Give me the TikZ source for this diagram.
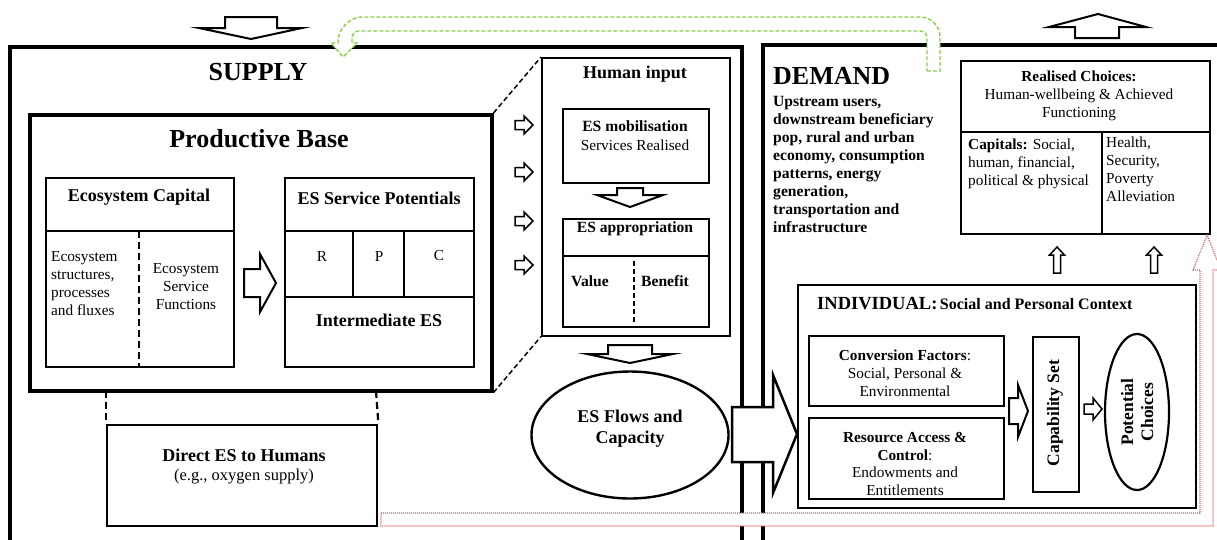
\documentclass[tikz,border=0pt]{standalone}
\usepackage{fontspec}
\setmainfont{Liberation Serif}
\usetikzlibrary{shapes.geometric}
\definecolor{flowgreen}{RGB}{140,205,75}
\definecolor{flowred}{RGB}{215,90,90}
\begin{document}
\begin{tikzpicture}[x=1pt,y=-1pt,
  outer/.style={line width=4.5pt,line join=miter},
  pbox/.style={draw,line width=3.5pt,rectangle,inner sep=0pt,anchor=north west},
  ibox/.style={draw,line width=2.4pt,rectangle,inner sep=0pt,anchor=north west},
  tbox/.style={draw,line width=1.5pt,rectangle,inner sep=0pt,anchor=north west},
  divider/.style={line width=2.4pt},
  dashdiv/.style={line width=2.2pt,dash pattern=on 7pt off 4pt},
  link/.style={line width=1.5pt,dash pattern=on 5pt off 3pt},
  blockarrow/.style={draw,line width=2pt,fill=white,line join=miter},
  smallarrow/.style={draw,line width=1.5pt,fill=white,line join=miter},
  bigt/.style={font=\fontsize{26}{30}\selectfont\bfseries,inner sep=0pt},
  titlet/.style={font=\fontsize{18}{21}\selectfont\bfseries,inner sep=0pt},
  btxt/.style={font=\fontsize{15.6}{18}\selectfont\bfseries,inner sep=0pt},
  rtxt/.style={font=\fontsize{15.3}{18}\selectfont,inner sep=0pt},
]
\useasboundingbox (0,0) rectangle (1217,539);
\fill[white] (0,0) rectangle (1217,539);

% outer frames
\draw[outer] (10,560) -- (10,47) -- (742,47) -- (742,560);
\draw[outer] (763,560) -- (763,45) -- (1240,45);

% top arrows
\draw[blockarrow] (225,17) -- (277,17) -- (277,28) -- (302,28) -- (251,39) -- (199,28) -- (225,28) -- cycle;
\draw[blockarrow] (1075,38) -- (1075,27) -- (1049,27) -- (1098,14) -- (1146,27) -- (1119,27) -- (1119,38) -- cycle;

% SUPPLY side
\node[bigt] (supply) at (258,72) {SUPPLY};
\node[pbox,minimum width=462pt,minimum height=276pt] (pb) at (28,113) {};
\node[bigt] (pbt) at (259,139) {Productive Base};

% Ecosystem capital
\node[ibox,minimum width=188pt,minimum height=189pt] (ecap) at (45,177) {};
\draw[divider] (ecap.north west |- 0,231) -- (ecap.north east |- 0,231);
\draw[dashdiv] (139,231) -- (139,366);
\node[titlet] (ecapt) at (139,197) {Ecosystem Capital};
\node[rtxt,align=left,anchor=west] (ecl) at (51,284) {Ecosystem\\structures,\\processes\\and fluxes};
\node[rtxt,align=center] (ecr) at (186,287) {Ecosystem\\Service\\Functions};

\draw[blockarrow] (244,269) -- (260,269) -- (260,254) -- (276,283) -- (260,312) -- (260,297) -- (244,297) -- cycle;

% ES service potentials
\node[ibox,minimum width=189pt,minimum height=189pt] (esp) at (284,177) {};
\draw[divider] (284,231) -- (473,231);
\draw[divider] (284,297) -- (473,297);
\draw[divider] (353,231) -- (353,297);
\draw[divider] (404,231) -- (404,297);
\node[titlet] (espt) at (379,198) {ES Service Potentials};
\node[rtxt] (r) at (322,256) {R};
\node[rtxt] (p) at (379,256) {P};
\node[rtxt] (c) at (439,256) {C};
\node[titlet] (ies) at (379,320) {Intermediate ES};

% Direct ES
\node[ibox,minimum width=270pt,minimum height=101pt] (dir) at (106,424) {};
\draw[dashdiv] (106,391) -- (dir.north west);
\draw[dashdiv] (376,391) -- (dir.north east);
\node[titlet] (dirt) at (244,455) {Direct ES to Humans};
\node[font=\fontsize{16.5}{19}\selectfont,inner sep=0pt] (dirs) at (244,477) {(e.g., oxygen supply)};

% Human input
\node[tbox,minimum width=188pt,minimum height=278pt] (hi) at (541,57) {};
\draw[link] (pb.north east) -- (hi.north west);
\draw[link] (pb.south east) -- (hi.south west);
\node[titlet] (hit) at (635,74) {Human input};

\node[ibox,minimum width=146pt,minimum height=74pt] (mob) at (562,108) {};
\node[btxt] (mobt) at (635,126) {ES mobilisation};
\node[rtxt] (mobs) at (635,145) {Services Realised};

\draw[blockarrow] (617,188) -- (643,188) -- (643,195) -- (663,195) -- (630,207) -- (597,195) -- (617,195) -- cycle;

\node[ibox,minimum width=146pt,minimum height=108pt] (app) at (562,218) {};
\draw[divider] (562,256) -- (708,256);
\draw[dashdiv,line width=1.8pt,dash pattern=on 5pt off 3pt] (634,261) -- (634,324);
\node[btxt] (appt) at (635,229) {ES appropriation};
\node[btxt] (val) at (590,281) {Value};
\node[btxt] (ben) at (665,281) {Benefit};

\foreach \yy/\nm in {125/a1,172/a2,221/a3,265/a4}{
  \draw[smallarrow] (515,\yy-4.5) -- (524,\yy-4.5) -- (524,\yy-9) -- (533,\yy) -- (524,\yy+9) -- (524,\yy+4.5) -- (515,\yy+4.5) -- cycle;
}

\draw[blockarrow] (608,345) -- (652,345) -- (652,354) -- (673,354) -- (630,363) -- (587,354) -- (608,354) -- cycle;

\node[draw,ellipse,line width=2.4pt,minimum width=197pt,minimum height=127pt,inner sep=0pt] (flow) at (630,435) {};
\node[titlet,align=center] (flowt) at (630,429) {ES Flows and\\Capacity};

% big arrow across
\draw[blockarrow,line width=2.5pt] (732,407) -- (773,407) -- (773,375) -- (797,434) -- (773,493) -- (773,462) -- (732,462) -- cycle;

% DEMAND side
\node[bigt,anchor=west] (demand) at (773,76) {DEMAND};
\node[btxt,align=left,anchor=west] (demtxt) at (773,164) {Upstream users,\\downstream beneficiary\\pop, rural and urban\\economy, consumption\\patterns, energy\\generation,\\transportation and\\infrastructure};

% Realised choices
\node[ibox,minimum width=249pt,minimum height=173pt] (rc) at (960,60) {};
\draw[divider] (960,132) -- (1209,132);
\draw[divider] (1102,132) -- (1102,233);
\node[rtxt,align=center] (rct) at (1079,96) {\textbf{Realised Choices:}\\Human-wellbeing \& Achieved\\Functioning};
\node[rtxt,align=left,anchor=west] (cap) at (968,164) {\textbf{Capitals:} Social,\\human, financial,\\political \& physical};
\node[rtxt,align=left,anchor=west] (hea) at (1106,169) {Health,\\Security,\\Poverty\\Alleviation};

\foreach \xx in {1057,1154}{
  \draw[smallarrow] (\xx-3.5,273) -- (\xx-3.5,255) -- (\xx-7.5,255) -- (\xx,247) -- (\xx+7.5,255) -- (\xx+3.5,255) -- (\xx+3.5,273) -- cycle;
}

% Individual
\node[ibox,minimum width=398pt,minimum height=223pt] (ind) at (797,284) {};
\node[inner sep=0pt,anchor=west,font=\bfseries] (indt) at (817,304) {{\fontsize{18.5}{21}\selectfont INDIVIDUAL:} {\fontsize{16}{19}\selectfont Social and Personal Context}};

\node[ibox,minimum width=195pt,minimum height=70pt] (conv) at (808,335) {};
\node[rtxt,align=center] (convt) at (905,373) {\textbf{Conversion Factors}:\\Social, Personal \&\\Environmental};
\node[ibox,minimum width=195pt,minimum height=81pt] (res) at (808,417) {};
\node[rtxt,align=center,font=\fontsize{15.3}{17.7}\selectfont] (rest) at (905,464) {\textbf{Resource Access \&}\\\textbf{Control}:\\Endowments and\\Entitlements};

\draw[blockarrow] (1009,398) -- (1018,398) -- (1018,385) -- (1028,411) -- (1018,437) -- (1018,424) -- (1009,424) -- cycle;

\node[ibox,minimum width=46pt,minimum height=155pt] (capset) at (1032,336) {};
\node[font=\fontsize{17.5}{20}\selectfont\bfseries,inner sep=0pt,rotate=90] (capsett) at (1055,413) {Capability Set};

\draw[smallarrow] (1084,404) -- (1093,404) -- (1093,398) -- (1102,409) -- (1093,420) -- (1093,414) -- (1084,414) -- cycle;

\node[draw,ellipse,line width=2.2pt,minimum width=64pt,minimum height=156pt,inner sep=0pt] (pc) at (1137,412) {};
\node[font=\fontsize{17.5}{20}\selectfont\bfseries,inner sep=0pt,rotate=90,align=center] (pct) at (1137,412) {Potential\\Choices};

% feedback arrows
\draw[flowgreen,line width=1.4pt,dash pattern=on 4pt off 2pt,fill=white]
  (927,71) -- (940,71) -- (940,37) .. controls (940,26) and (931,17) .. (920,17)
  -- (362,17) .. controls (348.8,17) and (338,30.2) .. (338,41) -- (338,43)
  -- (331,43) -- (343,57) -- (357,43) -- (352,43) -- (352,38)
  .. controls (352,34.1) and (355.1,31) .. (359,31) -- (920,31)
  .. controls (923.9,31) and (927,34.1) .. (927,38) -- cycle;

\draw[flowred,line width=1.1pt,dash pattern=on 1pt off 1pt,fill=white]
  (381,513) -- (1200,513) -- (1200,270) -- (1193,270) -- (1207,235) -- (1221,270)
  -- (1213,270) -- (1213,526) -- (381,526) -- cycle;
\end{tikzpicture}
\end{document}
